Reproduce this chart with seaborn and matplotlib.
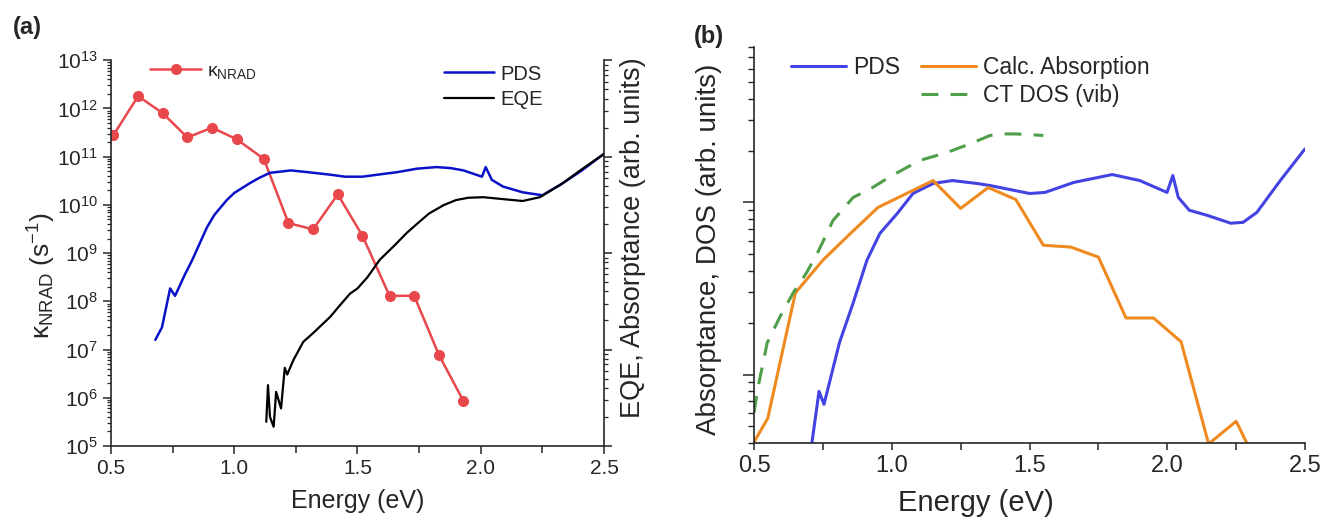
import numpy as np
import pandas as pd
import matplotlib
matplotlib.use("Agg")
import matplotlib.pyplot as plt
from matplotlib.ticker import MultipleLocator, LogLocator, NullFormatter
from matplotlib.lines import Line2D
import seaborn as sns

sns.set_style("ticks")
plt.rcParams['font.family'] = ['Liberation Sans', 'DejaVu Sans']
plt.rcParams['mathtext.default'] = 'regular'

# ---------------- Panel (a) data ----------------
k_energy = [0.51, 0.61, 0.71, 0.81, 0.91, 1.01, 1.12, 1.22, 1.32, 1.42, 1.52, 1.63, 1.73, 1.83, 1.93]
k_nrad = [2.8e11, 1.8e12, 8.0e11, 2.5e11, 4.0e11, 2.3e11, 9.0e10, 4.2e9, 3.1e9, 1.65e10, 2.3e9,
          1.3e8, 1.3e8, 7.8e6, 8.5e5]

pds_a_energy = [0.68, 0.707, 0.74, 0.76, 0.80, 0.83, 0.86, 0.89, 0.92, 0.97, 1.00, 1.06, 1.10,
                1.145, 1.23, 1.30, 1.39, 1.45, 1.52, 1.60, 1.66, 1.74, 1.82, 1.88, 1.93, 2.005,
                2.02, 2.045, 2.09, 2.17, 2.25, 2.33, 2.41, 2.50]
pds_a = [1.26e-3, 1.7e-3, 4.3e-3, 3.6e-3, 6.0e-3, 8.5e-3, 1.26e-2, 1.86e-2, 2.5e-2, 3.55e-2,
         4.2e-2, 5.25e-2, 6.0e-2, 6.8e-2, 7.2e-2, 6.9e-2, 6.5e-2, 6.2e-2, 6.2e-2, 6.6e-2,
         6.9e-2, 7.5e-2, 7.8e-2, 7.6e-2, 7.2e-2, 6.2e-2, 7.8e-2, 5.75e-2, 4.9e-2, 4.27e-2,
         3.98e-2, 5.25e-2, 7.2e-2, 1.07e-1]

eqe_energy = [1.13, 1.137, 1.145, 1.16, 1.17, 1.19, 1.205, 1.215, 1.24, 1.28, 1.32, 1.35, 1.39,
              1.43, 1.47, 1.50, 1.54, 1.59, 1.65, 1.70, 1.75, 1.79, 1.85, 1.90, 1.95, 2.01,
              2.09, 2.17, 2.24, 2.33, 2.41, 2.50]
eqe = [1.78e-4, 4.27e-4, 2.0e-4, 1.58e-4, 3.63e-4, 2.45e-4, 6.46e-4, 5.5e-4, 7.76e-4, 1.2e-3,
       1.48e-3, 1.75e-3, 2.19e-3, 2.9e-3, 3.8e-3, 4.3e-3, 5.6e-3, 8.5e-3, 1.2e-2, 1.62e-2,
       2.1e-2, 2.57e-2, 3.15e-2, 3.55e-2, 3.75e-2, 3.8e-2, 3.63e-2, 3.47e-2, 3.8e-2, 5.25e-2,
       7.4e-2, 1.07e-1]

# ---------------- Panel (b) data ----------------
pds_b_energy = [0.71, 0.736, 0.754, 0.81, 0.86, 0.91, 0.957, 1.02, 1.077, 1.15, 1.22, 1.31,
                1.357, 1.50, 1.556, 1.66, 1.80, 1.90, 1.999, 2.02, 2.04, 2.08, 2.145, 2.23,
                2.275, 2.325, 2.41, 2.50]
pds_b = [0.04, 0.0798, 0.0671, 0.153, 0.261, 0.462, 0.661, 0.863, 1.127, 1.288, 1.34, 1.288,
         1.253, 1.127, 1.143, 1.306, 1.452, 1.34, 1.143, 1.432, 1.069, 0.90, 0.841, 0.757,
         0.766, 0.875, 1.34, 2.05]

calc_energy = [0.50, 0.55, 0.65, 0.75, 0.85, 0.95, 1.05, 1.15, 1.25, 1.35, 1.45, 1.55, 1.65,
               1.75, 1.85, 1.95, 2.05, 2.15, 2.25, 2.35]
calc_abs = [0.0405, 0.0557, 0.298, 0.462, 0.66, 0.935, 1.12, 1.34, 0.923, 1.22, 1.04, 0.564,
            0.55, 0.481, 0.213, 0.213, 0.155, 0.0395, 0.0535, 0.025]

ct_energy = [0.50, 0.515, 0.548, 0.594, 0.642, 0.69, 0.73, 0.787, 0.86, 0.93, 1.00, 1.10, 1.20,
             1.284, 1.357, 1.40, 1.45, 1.55]
ct_dos = [0.06, 0.085, 0.153, 0.216, 0.298, 0.389, 0.507, 0.787, 1.069, 1.22, 1.43, 1.75, 1.95,
          2.19, 2.45, 2.5, 2.5, 2.45]

x_ticks = [0.5, 1.0, 1.5, 2.0, 2.5]

c_red = "#E8474B"
c_blue_a = "#0A12C8"
c_blue_b = "#4343E3"
c_orange = "#EE8A20"
c_green = "#4F9E48"

fig = plt.figure(figsize=(13.24, 5.24), dpi=100)

# ================= Panel (a) =================
ax = fig.add_axes([0.0838, 0.149, 0.3724, 0.736])
ax2 = ax.twinx()

sns.lineplot(x=k_energy, y=k_nrad, ax=ax, color=c_red, lw=1.8, marker='o', markersize=8,
             markeredgewidth=0, errorbar=None)
sns.lineplot(x=pds_a_energy, y=pds_a, ax=ax2, color=c_blue_a, lw=1.8, errorbar=None)
sns.lineplot(x=eqe_energy, y=eqe, ax=ax2, color='black', lw=1.6, errorbar=None)

ax.set_yscale('log')
ax.set_ylim(1e5, 1e13)
ax.set_xlim(0.5, 2.5)
ax.set_xticks(x_ticks)
ax.set_xticklabels([f"{v:.1f}" for v in x_ticks])
ax.xaxis.set_minor_locator(MultipleLocator(0.25))
ax.yaxis.set_major_locator(LogLocator(base=10, numticks=20))
ax.yaxis.set_minor_locator(LogLocator(base=10, subs=np.arange(2, 10), numticks=100))
ax.yaxis.set_minor_formatter(NullFormatter())

ax2.set_yscale('log')
ax2.set_ylim(1e-4, 1e0)
ax2.yaxis.set_major_locator(LogLocator(base=10, numticks=20))
ax2.yaxis.set_minor_locator(LogLocator(base=10, subs=np.arange(2, 10), numticks=100))
ax2.yaxis.set_major_formatter(NullFormatter())
ax2.yaxis.set_minor_formatter(NullFormatter())

for a in (ax, ax2):
    a.spines['top'].set_visible(False)
    for s in a.spines.values():
        s.set_linewidth(1.2)
ax.spines['right'].set_visible(False)
ax2.spines['left'].set_visible(False)
ax2.spines['bottom'].set_visible(False)

ax.tick_params(axis='both', which='major', direction='out', length=6, width=1.1, labelsize=15)
ax.tick_params(axis='y', which='minor', direction='out', length=3, width=0.9)
ax.tick_params(axis='x', which='minor', direction='out', length=5, width=1.1)
ax2.tick_params(axis='y', which='major', direction='out', length=6, width=1.1)
ax2.tick_params(axis='y', which='minor', direction='out', length=3, width=0.9)

ax.set_xlabel("Energy (eV)", fontsize=18)
ax.xaxis.set_label_coords(0.5, -0.112)
ax.set_ylabel("κ$_{NRAD}$ (s$^{-1}$)", fontsize=19)
ax.yaxis.set_label_coords(-0.108, 0.443)
ax2.set_ylabel("EQE, Absorptance (arb. units)", fontsize=19.5)
ax2.yaxis.set_label_coords(1.033, 0.54)

h_k = Line2D([], [], color=c_red, lw=1.8, marker='o', markersize=8, markeredgewidth=0)
leg1 = ax.legend([h_k], ["κ$_{NRAD}$"], loc='upper left', bbox_to_anchor=(0.06, 1.02),
                 frameon=False, fontsize=14, handlelength=2.6, handletextpad=0.3, borderpad=0)
h_p = Line2D([], [], color=c_blue_a, lw=1.8)
h_e = Line2D([], [], color='black', lw=1.6)
leg2 = ax2.legend([h_p, h_e], ["PDS", "EQE"], loc='upper left', bbox_to_anchor=(0.655, 1.015),
                  frameon=False, fontsize=14.5, handlelength=2.5, handletextpad=0.3,
                  labelspacing=0.3, borderpad=0)

fig.text(0.01, 0.935, "(a)", fontsize=17, fontweight='bold')

# ================= Panel (b) =================
bx = fig.add_axes([0.5695, 0.1546, 0.4162, 0.7557])
sns.lineplot(x=pds_b_energy, y=pds_b, ax=bx, color=c_blue_b, lw=2.2, errorbar=None)
sns.lineplot(x=calc_energy, y=calc_abs, ax=bx, color=c_orange, lw=2.2, errorbar=None)
sns.lineplot(x=ct_energy, y=ct_dos, ax=bx, color=c_green, lw=2.2, dashes=False, errorbar=None)
bx.lines[-1].set_dashes((5.5, 4))

bx.set_yscale('log')
bx.set_ylim(0.04, 8)
bx.set_xlim(0.5, 2.5)
bx.set_xticks(x_ticks)
bx.set_xticklabels([f"{v:.1f}" for v in x_ticks])
bx.xaxis.set_minor_locator(MultipleLocator(0.25))
bx.yaxis.set_major_locator(LogLocator(base=10, numticks=20))
bx.yaxis.set_minor_locator(LogLocator(base=10, subs=np.arange(2, 10), numticks=100))
bx.yaxis.set_major_formatter(NullFormatter())
bx.yaxis.set_minor_formatter(NullFormatter())
bx.spines['top'].set_visible(False)
bx.spines['right'].set_visible(False)
for s in bx.spines.values():
    s.set_linewidth(1.2)
bx.tick_params(axis='both', which='major', direction='out', length=8, width=1.1, labelsize=17)
bx.tick_params(axis='x', which='major', length=5)
bx.tick_params(axis='y', which='minor', direction='out', length=4, width=1.0)
bx.tick_params(axis='x', which='minor', direction='out', length=5, width=1.1)

bx.set_xlabel("Energy (eV)", fontsize=21)
bx.xaxis.set_label_coords(0.403, -0.115)
bx.set_ylabel("Absorptance, DOS (arb. units)", fontsize=20)
bx.yaxis.set_label_coords(-0.058, 0.49)

hb_p = Line2D([], [], color=c_blue_b, lw=2.2)
hb_c = Line2D([], [], color=c_orange, lw=2.2)
hb_d = Line2D([], [], color=c_green, lw=2.2, dashes=(5.5, 4))
hb_blank = Line2D([], [], color='none', lw=0)
bx.legend([hb_p, hb_blank, hb_c, hb_d], ["PDS", " ", "Calc. Absorption", "CT DOS (vib)"],
          ncol=2, loc='upper left', bbox_to_anchor=(0.047, 1.005), frameon=False, fontsize=16.5,
          handlelength=2.4, handletextpad=0.3, labelspacing=0.2, columnspacing=0.9, borderpad=0)

fig.text(0.524, 0.918, "(b)", fontsize=17, fontweight='bold')

fig.savefig("out.png", dpi=100)
